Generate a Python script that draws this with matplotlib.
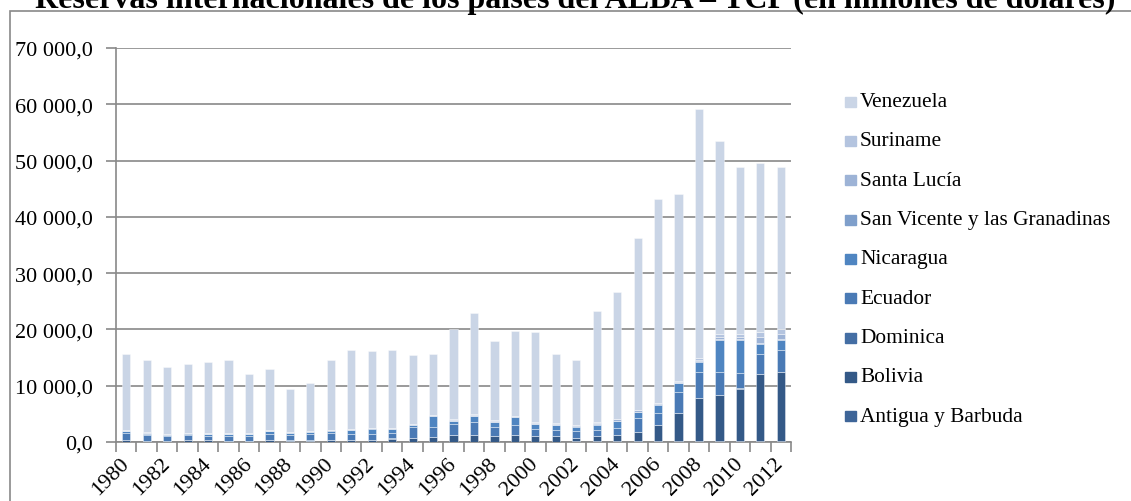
import numpy as np
import matplotlib.pyplot as plt
from matplotlib.patches import Rectangle
from matplotlib.ticker import FuncFormatter

plt.rcParams['font.family'] = ['Liberation Serif', 'DejaVu Serif']

# -------- DATOS (millones de dólares) --------
years = list(range(1980, 2013))

antigua = [30, 25, 20, 20, 25, 30, 30, 35, 35, 40, 45, 45, 50, 55, 60, 65, 55,
           60, 65, 70, 75, 80, 90, 120, 120, 130, 140, 140, 140, 110, 140, 150, 160]
bolivia = [320, 225, 230, 280, 275, 220, 220, 265, 215, 210, 255, 355, 350, 545, 640, 835,
           1195, 1190, 1035, 1130, 995, 990, 610, 880, 1080, 1670, 2860, 4960, 7660,
           8190, 9360, 11850, 12240]
dominica = [15, 15, 10, 10, 10, 15, 15, 20, 20, 20, 20, 25, 25, 25, 25, 30, 30, 30, 30,
            30, 30, 30, 45, 50, 45, 50, 60, 60, 55, 65, 75, 75, 85]
ecuador = [1235, 985, 790, 890, 840, 835, 835, 1180, 1030, 1130, 1280, 1075, 1075, 975,
           1875, 1770, 1970, 2320, 1570, 1870, 1150, 1100, 1155, 1150, 1255, 2350, 2140,
           3640, 4645, 4035, 2675, 3525, 3815]
nicaragua = [350, 250, 250, 300, 250, 250, 250, 400, 300, 400, 400, 570, 870, 700, 400,
             1850, 450, 1000, 800, 1300, 950, 800, 800, 900, 1200, 1100, 1400, 1600, 1800,
             5800, 5950, 1850, 1900]
san_vicente = [20, 20, 20, 20, 25, 30, 30, 35, 35, 40, 45, 50, 50, 55, 60, 60, 60, 65, 65,
               70, 70, 75, 80, 85, 90, 90, 100, 110, 110, 120, 110, 150, 150]
santa_lucia = [60, 60, 60, 60, 60, 70, 70, 80, 80, 90, 100, 110, 110, 120, 130, 140, 140,
               150, 160, 170, 180, 190, 200, 210, 230, 240, 150, 150, 150, 250, 350, 1030, 920]
suriname = [150, 140, 110, 100, 90, 80, 80, 70, 70, 20, 20, 10, 20, 30, 40, 130, 100, 110,
            110, 40, 120, 120, 110, 110, 130, 130, 100, 200, 380, 530, 610, 950, 830]
venezuela = [13520, 12780, 11810, 12120, 12725, 13070, 10470, 10915, 7615, 8550, 12335,
             14160, 13550, 13795, 12170, 10820, 16100, 17975, 14165, 15020, 15930, 12315,
             11410, 19695, 22450, 30540, 36150, 33140, 44160, 34300, 29630, 30020, 28700]

series = [
    ("Antigua y Barbuda", antigua, '#3e6598'),
    ("Bolivia", bolivia, '#345987'),
    ("Dominica", dominica, '#446ea4'),
    ("Ecuador", ecuador, '#4a7ab5'),
    ("Nicaragua", nicaragua, '#4f85c1'),
    ("San Vicente y las Granadinas", san_vicente, '#7f9fcb'),
    ("Santa Lucía", santa_lucia, '#9db3d6'),
    ("Suriname", suriname, '#b4c4df'),
    ("Venezuela", venezuela, '#cad5e6'),
]

W, H = 1131, 502
fig = plt.figure(figsize=(W / 100, H / 100), dpi=100)
ax = fig.add_axes([116 / W, 1 - 443 / H, 675 / W, 394 / H])

gris = '#898989'
x = np.arange(len(years))
base = np.zeros(len(years))
for nombre, vals, col in series:
    vals = np.array(vals, dtype=float)
    ax.bar(x, vals, width=0.4, bottom=base, color=col,
           edgecolor=(1, 1, 1, 0.45), linewidth=0.6, zorder=3)
    base += vals

ax.set_xlim(-0.5, len(years) - 0.5)
ax.set_ylim(0, 70000)
ax.set_yticks(np.arange(0, 70001, 10000))
ax.yaxis.set_major_formatter(FuncFormatter(
    lambda v, p: f'{v:,.1f}'.replace(',', ' ').replace('.', ',')))
ax.grid(axis='y', color=gris, linewidth=1.2, zorder=0)

for s in ['top', 'right']:
    ax.spines[s].set_visible(False)
for s in ['left', 'bottom']:
    ax.spines[s].set_color(gris)
    ax.spines[s].set_linewidth(1.2)

# ticks del eje x en los límites de categoría, etiquetas cada 2 años
ax.set_xticks(np.arange(-0.5, len(years), 1.0))
ax.set_xticklabels([])
ax.set_xticks(x[::2], minor=True)
ax.set_xticklabels([str(a) for a in years[::2]], minor=True,
                   rotation=45, ha='right', va='center', rotation_mode='anchor')
ax.tick_params(axis='x', which='major', length=7, width=1.2, color=gris)
ax.tick_params(axis='x', which='minor', length=0, pad=13.5, labelsize=16)
ax.tick_params(axis='y', length=7, width=1.2, color=gris, labelsize=16, pad=10)

# leyenda manual (orden inverso)
y0 = 102.7
for i, (nombre, vals, col) in enumerate(series[::-1]):
    yc = y0 + i * 39.3
    fig.add_artist(Rectangle((845 / W, 1 - (yc + 5) / H), 11 / W, 10 / H,
                             transform=fig.transFigure, color=col))
    fig.text(860 / W, 1 - yc / H, nombre, fontsize=15.4, va='center', ha='left')

# borde del área del gráfico
fig.add_artist(Rectangle((10 / W, -0.2), 1.2, 1.2 - 12 / H,
                         transform=fig.transFigure, fill=False,
                         edgecolor=gris, linewidth=1.2))

fig.text(575 / W, 1 - 8 / H,
         "Reservas internacionales de los países del ALBA – TCP (en millones de dólares)",
         fontsize=23, fontweight='bold', ha='center', va='baseline')

fig.savefig('out.png', dpi=100)
